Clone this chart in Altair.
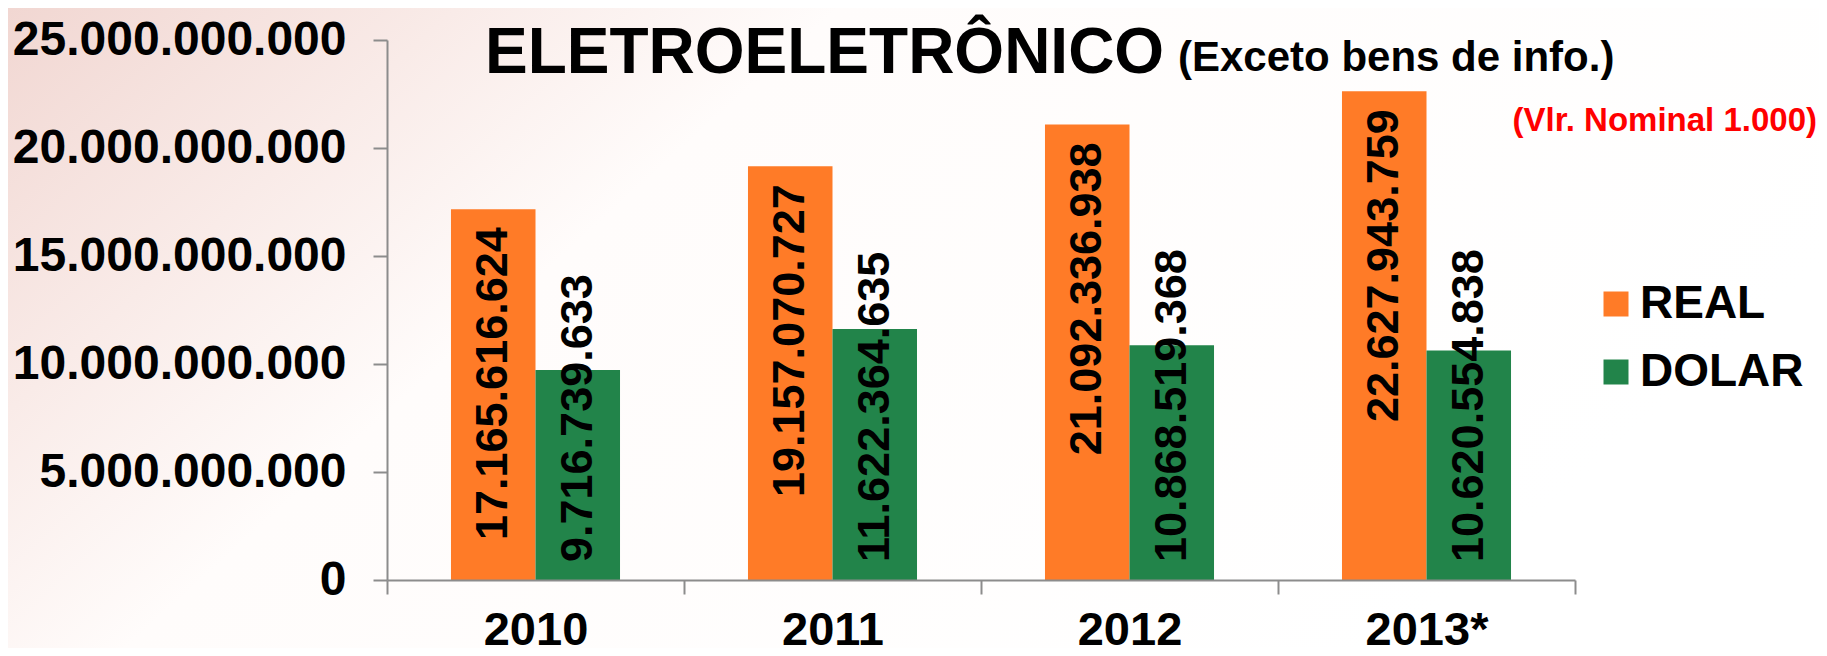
import altair as alt
import pandas as pd

# ---- data ----
anos = ["2010", "2011", "2012", "2013*"]
real = [17165616624, 19157070727, 21092336938, 22627943759]
dolar = [9716739633, 11622364635, 10868519368, 10620554838]
series = ["REAL", "DOLAR"]
cores = ["#FF7B27", "#22844A"]
y_ticks = [0, 5000000000, 10000000000, 15000000000, 20000000000, 25000000000]
titulo = "ELETROELETRÔNICO"
subtitulo = "(Exceto bens de info.)"
nota = "(Vlr. Nominal 1.000)"

FONT = "Arial, Liberation Sans, sans-serif"
GRAY = "#8c8c8c"
FMT = "replace(format({v}, ',d'), regexp(',', 'g'), '.')"

df = pd.DataFrame({
    "ano": anos * 2,
    "serie": ["REAL"] * len(anos) + ["DOLAR"] * len(anos),
    "valor": real + dolar,
})

x_scale = alt.Scale(paddingInner=0, paddingOuter=0)
xo_scale = alt.Scale(paddingInner=0, paddingOuter=0.757)
y_scale = alt.Scale(domain=[0, 25000000000], nice=False)

x_axis = alt.Axis(title=None, labelAngle=0, labelFontSize=47, labelFontWeight="bold",
                  labelFont=FONT, labelColor="black", labelPadding=13,
                  tickBand="extent", tickSize=14, tickColor=GRAY, tickWidth=2,
                  domainColor=GRAY, domainWidth=2, zindex=1)
y_axis = alt.Axis(title=None, values=y_ticks, grid=False,
                  labelExpr=FMT.format(v="datum.value"), labelLimit=600,
                  labelFontSize=48, labelFontWeight="bold", labelFont=FONT,
                  labelColor="black", labelPadding=27,
                  tickSize=14, tickColor=GRAY, tickWidth=2,
                  domainColor=GRAY, domainWidth=2, zindex=1)

x_enc = alt.X("ano:N", sort=anos, scale=x_scale, axis=x_axis)
xo_enc = alt.XOffset("serie:N", sort=series, scale=xo_scale)

# soft pink background wash on the left, like the slide background
bg = alt.Chart(pd.DataFrame({"a": [0]})).mark_rect(
    color=alt.Gradient(
        gradient="linear", x1=0, x2=1, y1=0, y2=0.4,
        stops=[alt.GradientStop(offset=0, color="#F1D6D1"),
               alt.GradientStop(offset=0.22, color="#F9EBE8"),
               alt.GradientStop(offset=0.4, color="#FFFCFB"),
               alt.GradientStop(offset=1, color="#FFFFFF")])
).encode(x=alt.value(-387), x2=alt.value(1440), y=alt.value(-40), y2=alt.value(616))

base = alt.Chart(df)

bars = base.mark_bar().encode(
    x=x_enc,
    xOffset=xo_enc,
    y=alt.Y("valor:Q", scale=y_scale, axis=y_axis),
    color=alt.Color("serie:N", sort=series,
                    scale=alt.Scale(domain=series, range=cores),
                    legend=alt.Legend(title=None, orient="none", legendX=1206, legendY=241,
                                      symbolType="square", symbolSize=625, symbolStrokeWidth=0,
                                      symbolOpacity=1, labelLimit=500,
                                      labelFontSize=46, labelFontWeight="bold", labelFont=FONT,
                                      labelColor="black", labelOffset=1, rowPadding=22,
                                      padding=0)),
)

txt_style = dict(angle=270, baseline="middle", fontSize=45, fontWeight="bold",
                 font=FONT, color="black")

txt_real = base.transform_filter("datum.serie == 'REAL'").transform_calculate(
    lbl=FMT.format(v="datum.valor")
).mark_text(align="right", dx=-18, **txt_style).encode(
    x=x_enc,
    xOffset=xo_enc,
    y=alt.Y("valor:Q", scale=y_scale, axis=y_axis),
    text="lbl:N",
)

txt_dolar = base.transform_filter("datum.serie == 'DOLAR'").transform_calculate(
    lbl=FMT.format(v="datum.valor"), base0="0"
).mark_text(align="left", dx=18, **txt_style).encode(
    x=x_enc,
    xOffset=xo_enc,
    y=alt.Y("base0:Q", scale=y_scale, axis=y_axis),
    text="lbl:N",
)

t1 = alt.Chart(pd.DataFrame({"t": [titulo]})).mark_text(
    align="left", baseline="alphabetic", fontSize=64, fontWeight="bold", font=FONT, color="black"
).encode(text="t:N", x=alt.value(98), y=alt.value(33))

t2 = alt.Chart(pd.DataFrame({"t": [subtitulo]})).mark_text(
    align="left", baseline="alphabetic", fontSize=42, fontWeight="bold", font=FONT, color="black"
).encode(text="t:N", x=alt.value(791), y=alt.value(31))

t3 = alt.Chart(pd.DataFrame({"t": [nota]})).mark_text(
    align="right", baseline="alphabetic", fontSize=33, fontWeight="bold", font=FONT, color="#FF0000"
).encode(text="t:N", x=alt.value(1430), y=alt.value(91))

chart = alt.layer(bg, bars, txt_real, txt_dolar, t1, t2, t3).properties(
    width=1188, height=540,
    padding={"left": 379, "top": 32, "right": 244, "bottom": 68},
    autosize=alt.AutoSizeParams(type="none"),
    background="#FFFFFF",
).configure_view(stroke=None)

chart.save("out.html", embed_options={"renderer": "svg", "actions": False})
